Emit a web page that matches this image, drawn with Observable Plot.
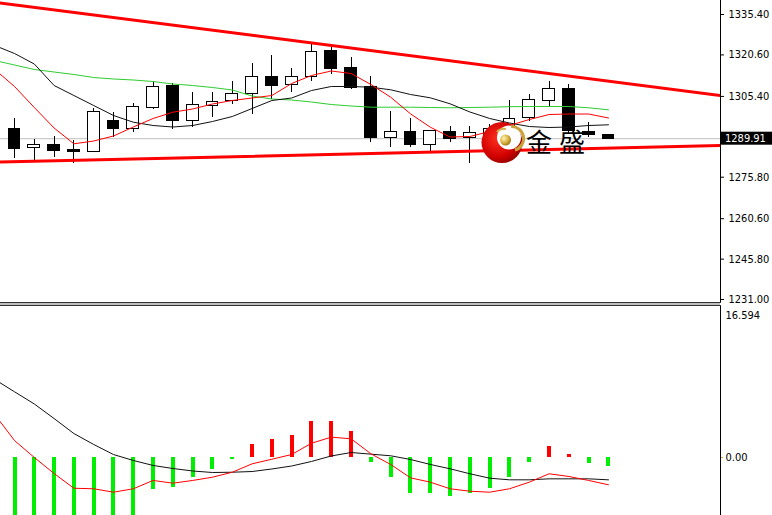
<!DOCTYPE html>
<html><head><meta charset="utf-8">
<script src="https://cdn.jsdelivr.net/npm/d3@7"></script>
<script src="https://cdn.jsdelivr.net/npm/@observablehq/plot@0.6"></script>
<style>
html,body{margin:0;padding:0;background:#fff;}
#wrap{position:relative;width:772px;height:515px;overflow:hidden;background:#fff;}
#top{position:absolute;left:0;top:0;}
#sep{position:absolute;left:0;top:303px;width:720px;height:2px;background:#bdbdbd;}
#bot{position:absolute;left:0;top:305px;}
#logo{position:absolute;left:0;top:0;pointer-events:none;}
svg{overflow:visible;}
</style></head><body>
<div id="wrap"><div id="top"></div><div id="sep"></div><div id="bot"></div>
<svg id="logo" width="772" height="515">
 <defs>
  <radialGradient id="rg" cx="40%" cy="40%" r="70%"><stop offset="0" stop-color="#ff3020"/><stop offset="0.65" stop-color="#d00000"/><stop offset="1" stop-color="#850000"/></radialGradient>
  <radialGradient id="gg" cx="35%" cy="35%" r="70%"><stop offset="0" stop-color="#fff4b8"/><stop offset="0.6" stop-color="#d8b040"/><stop offset="1" stop-color="#9a7410"/></radialGradient>
 </defs>
 <circle cx="502" cy="142.5" r="20.5" fill="url(#rg)"/>
 <circle cx="509" cy="137.5" r="12" fill="#fff"/>
 <path d="M 511 126.5 A 12 12 0 0 1 515 150" stroke="#c9a23a" stroke-width="3" fill="none"/>
 <path d="M 497 132 A 9 9 0 0 1 506 129" stroke="#d4b050" stroke-width="2" fill="none"/>
 <circle cx="505.5" cy="140" r="5.5" fill="url(#gg)"/>
 <text x="526" y="152" font-family="Noto Sans CJK SC" font-size="26" letter-spacing="7" fill="#000">金盛</text>
</svg>
</div>
<script>
// ---- price data (bar index 0..30) ----
const bars = d3.range(31);
const open  = [1293.53,1286.57,1287.67,1285.95,1285.22,1296.57,1293.53,1301.22,1309.03,1296.21,1301.96,1303.64,1306.10,1312.43,1309.58,1312.69,1321.96,1315.80,1308.84,1290.24,1292.29,1287.71,1292.54,1290.16,1291.20,1293.90,1297.38,1303.90,1308.18,1292.54,1291.33];
const high  = [1297.20,1289.50,1290.71,1289.25,1300.86,1299.39,1302.69,1310.97,1310.02,1306.72,1306.83,1310.86,1317.34,1320.38,1315.51,1324.89,1323.68,1319.54,1312.69,1299.98,1297.20,1293.00,1294.37,1294.37,1295.00,1303.90,1306.21,1310.75,1309.76,1295.73,1291.60];
const low   = [1282.54,1281.92,1283.13,1280.71,1284.90,1290.24,1292.29,1300.49,1293.17,1293.90,1297.85,1302.43,1298.77,1304.26,1306.94,1311.04,1313.42,1307.82,1288.51,1286.57,1286.57,1284.85,1288.62,1280.82,1288.30,1291.80,1296.21,1301.22,1291.50,1290.30,1289.70];
const close = [1286.21,1287.67,1285.58,1285.22,1299.61,1293.28,1301.70,1308.77,1296.32,1302.07,1303.53,1306.10,1312.69,1309.39,1312.43,1321.59,1315.51,1308.66,1290.24,1292.18,1287.78,1292.73,1289.80,1291.99,1293.40,1297.20,1304.01,1308.18,1292.73,1291.19,1289.91];

// ---- moving averages (bar index -1..30) ----
const maIdx = d3.range(-1, 31);
const maRed   = [1315.29,1309.03,1301.34,1293.83,1288.04,1289.06,1290.90,1294.19,1297.31,1299.61,1300.79,1302.62,1303.90,1304.82,1305.73,1310.13,1313.06,1314.71,1313.79,1309.76,1305.11,1299.03,1294.12,1290.53,1290.71,1292.54,1294.74,1296.94,1298.77,1298.95,1298.95,1297.49];
const maBlack = [1324.05,1321.12,1317.27,1309.39,1305.73,1302.07,1298.41,1295.95,1294.74,1294.19,1294.74,1296.21,1298.04,1300.97,1303.90,1304.82,1307.56,1309.03,1309.03,1308.77,1307.82,1306.10,1304.89,1302.69,1299.69,1297.31,1295.66,1294.37,1294.01,1294.19,1294.74,1295.00];
const maGreen = [1318.55,1316.90,1315.26,1314.34,1313.42,1312.32,1311.78,1311.41,1310.86,1309.94,1309.39,1308.66,1307.75,1305.55,1304.45,1304.08,1303.35,1302.43,1301.89,1301.45,1301.45,1301.45,1301.34,1301.23,1301.34,1301.45,1301.63,1301.70,1301.70,1301.70,1301.23,1300.49];

// ---- trend lines (two anchor points each) ----
const trendIdx   = [-1, 36];
const trendUpper = [1339.89, 1305.40];
const trendLower = [1281.32, 1287.47];

const priceTicks = [1231.00, 1245.80, 1260.60, 1275.80, 1305.40, 1320.60, 1335.40];
const lastPrice = 1289.91;

// ---- MACD panel ----
const macdMain   = [8.63,7.27,5.92,4.31,2.65,1.44,0.33,-0.33,-0.88,-1.22,-1.49,-1.66,-1.63,-1.55,-1.27,-0.94,-0.44,0.17,0.55,0.37,0.19,-0.22,-0.77,-1.25,-1.80,-2.29,-2.47,-2.47,-2.36,-2.36,-2.36,-2.47];
const macdSignal = [4.76,1.88,0,-1.77,-3.40,-3.46,-3.84,-3.46,-2.54,-2.84,-2.54,-2.18,-1.63,-0.70,-0.19,0.33,1.58,2.25,2.07,0.41,-0.77,-2.25,-2.73,-3.46,-3.73,-3.84,-3.46,-2.73,-1.80,-2.10,-2.54,-3.02];
const macdHist   = [-10.95,-11.8,-12.2,-12.1,-9.7,-8.3,-6.5,-3.54,-3.32,-2.21,-1.33,-0.25,1.44,1.96,2.47,3.98,3.98,2.88,-0.52,-2.25,-3.95,-4.02,-4.31,-3.95,-3.46,-2.25,-0.52,1.25,0.33,-0.70,-1.0];
const macdMax = 16.594;
const macdTicks = [0];

// ---- build ----
const candles = bars.map(i => ({i, o: open[i], h: high[i], l: low[i], c: close[i]}));
const up = candles.filter(d => d.c >= d.o);
const down = candles.filter(d => d.c < d.o);
const hist = bars.map(i => ({i, v: macdHist[i]}));
const xDomain = [-0.7071, 35.657];
const font = "'DejaVu Sans Condensed', 'Liberation Sans', sans-serif";

const topChart = Plot.plot({
  width: 772, height: 303, marginTop: 0, marginBottom: 1, marginLeft: 0, marginRight: 52,
  style: {background: "transparent", fontFamily: font, fontSize: "11px", color: "#000"},
  x: {domain: xDomain, axis: null},
  y: {domain: [1229.91, 1340.53]},
  marks: [
    Plot.ruleY([lastPrice], {stroke: "#c0c0c0", strokeWidth: 1}),
    Plot.ruleX(candles, {x: "i", y1: "l", y2: "h", stroke: "#000", strokeWidth: 1, shapeRendering: "crispEdges"}),
    Plot.rect(down, {x1: d => d.i - 0.3, x2: d => d.i + 0.3, y1: "o", y2: "c", fill: "#000", stroke: "#000", strokeWidth: 1, shapeRendering: "crispEdges"}),
    Plot.rect(up, {x1: d => d.i - 0.3, x2: d => d.i + 0.3, y1: "o", y2: "c", fill: "#fff", stroke: "#000", strokeWidth: 1, shapeRendering: "crispEdges"}),
    Plot.line(maIdx, {x: d => d, y: (d, k) => maGreen[k], stroke: "#2ecc2e", strokeWidth: 1, clip: true}),
    Plot.line(maIdx, {x: d => d, y: (d, k) => maBlack[k], stroke: "#111", strokeWidth: 1, clip: true}),
    Plot.line(maIdx, {x: d => d, y: (d, k) => maRed[k], stroke: "#ff0000", strokeWidth: 1, clip: true}),
    Plot.line(trendIdx, {x: d => d, y: (d, k) => trendUpper[k], stroke: "#ff0000", strokeWidth: 3, clip: true}),
    Plot.line(trendIdx, {x: d => d, y: (d, k) => trendLower[k], stroke: "#ff0000", strokeWidth: 3, clip: true}),
    Plot.axisY({anchor: "right", ticks: priceTicks, tickSize: 3, tickPadding: 5, tickFormat: d => d.toFixed(2), label: null, fill: "#000"}),
    Plot.frame({anchor: "right", stroke: "#000"}),
    Plot.frame({anchor: "bottom", stroke: "#333"})
  ]
});
document.getElementById("top").appendChild(topChart);

// current price label, positioned through the y scale
const py = topChart.scale("y").apply(lastPrice);
const g = d3.select(topChart).append("g");
g.append("rect").attr("x", 721).attr("y", py - 6.5).attr("width", 51).attr("height", 13).attr("fill", "#000");
g.append("text").attr("x", 725).attr("y", py + 4).attr("fill", "#fff").attr("text-anchor", "start")
  .style("font-family", font).style("font-size", "11px").text(lastPrice.toFixed(2));

const botChart = Plot.plot({
  width: 772, height: 210, marginTop: 0, marginBottom: 0, marginLeft: 0, marginRight: 52,
  style: {background: "transparent", fontFamily: font, fontSize: "11px", color: "#000"},
  x: {domain: xDomain, axis: null},
  y: {domain: [-6.416, 16.814]},
  marks: [
    Plot.ruleX(hist.filter(d => d.v < 0), {x: "i", y1: 0, y2: "v", stroke: "#00ee00", strokeWidth: 4, clip: true, shapeRendering: "crispEdges"}),
    Plot.ruleX(hist.filter(d => d.v >= 0), {x: "i", y1: 0, y2: "v", stroke: "#ff0000", strokeWidth: 4, clip: true, shapeRendering: "crispEdges"}),
    Plot.line(maIdx, {x: d => d, y: (d, k) => macdMain[k], stroke: "#111", strokeWidth: 1, clip: true}),
    Plot.line(maIdx, {x: d => d, y: (d, k) => macdSignal[k], stroke: "#ff0000", strokeWidth: 1, clip: true}),
    Plot.axisY({anchor: "right", ticks: macdTicks, tickSize: 2, tickPadding: 3, stroke: "#e0a020", tickFormat: d => d.toFixed(2), label: null, fill: "#000"}),
    Plot.axisY({anchor: "right", ticks: [macdMax], tickSize: 0, tickPadding: 5, dy: 8, tickFormat: d => d.toFixed(3), label: null, fill: "#000"}),
    Plot.frame({anchor: "right", stroke: "#000"}),
    Plot.frame({anchor: "top", stroke: "#333"})
  ]
});
document.getElementById("bot").appendChild(botChart);
</script>
</body></html>
